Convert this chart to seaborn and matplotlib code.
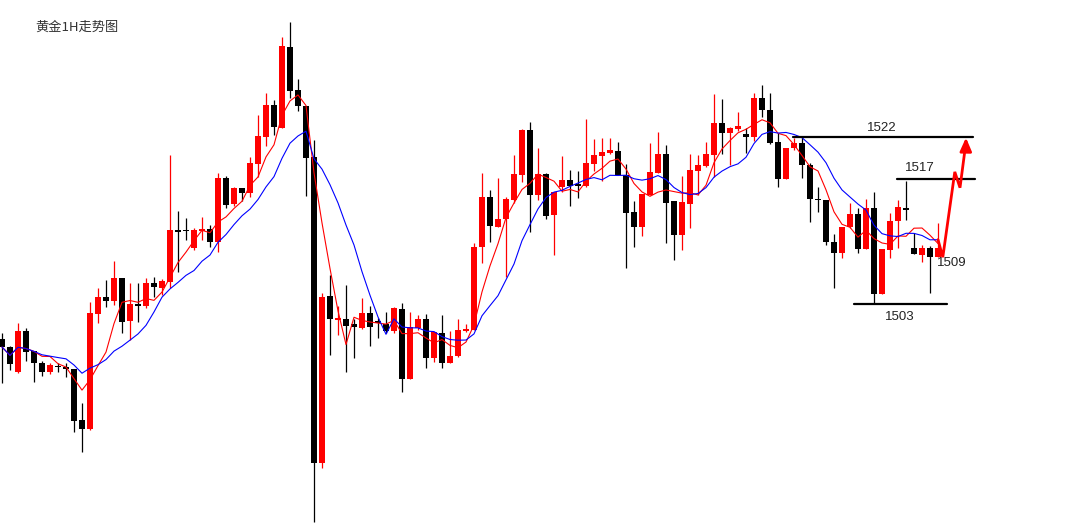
import numpy as np
import pandas as pd
import matplotlib
matplotlib.use("Agg")
import matplotlib.pyplot as plt
import seaborn as sns

# ----------------------------------------------------------------------
# DATA  (gold 1H candles)
# ----------------------------------------------------------------------
opens = [
    1499.0, 1498.1, 1495.3, 1499.9, 1497.6, 1496.3, 1495.3, 1495.9, 1495.8, 1495.6,
    1489.8, 1488.8, 1501.9, 1503.8, 1503.3, 1505.9, 1501.1, 1503.0, 1502.8, 1505.4,
    1504.8, 1505.5, 1511.4, 1511.4, 1509.3, 1511.3, 1511.5, 1510.0, 1517.3, 1514.4,
    1516.2, 1515.6, 1518.9, 1522.0, 1525.6, 1523.0, 1532.2, 1527.3, 1525.5, 1519.7,
    1484.9, 1503.9, 1501.2, 1501.3, 1500.7, 1500.3, 1502.0, 1501.1, 1500.7, 1499.9,
    1502.4, 1494.5, 1500.3, 1501.3, 1496.9, 1499.7, 1496.3, 1497.1, 1499.9, 1500.0,
    1509.5, 1515.1, 1511.7, 1512.6, 1514.8, 1517.6, 1522.8, 1515.4, 1517.8, 1513.1,
    1516.3, 1517.1, 1516.6, 1516.4, 1518.9, 1519.8, 1520.1, 1520.4, 1517.6, 1513.4,
    1511.7, 1515.4, 1517.9, 1520.0, 1514.7, 1510.8, 1514.4, 1518.1, 1518.7, 1519.9,
    1523.6, 1522.4, 1522.9, 1522.3, 1522.0, 1526.4, 1525.0, 1521.4, 1517.2, 1520.7,
    1521.3, 1518.8, 1514.9, 1514.8, 1510.0, 1508.8, 1511.7, 1513.2, 1509.2, 1513.9,
    1504.1, 1509.1, 1512.4, 1513.9, 1509.3, 1508.6, 1509.3, 1508.3,
]
highs = [
    1499.7, 1498.2, 1500.8, 1500.3, 1497.7, 1496.5, 1496.3, 1496.3, 1496.3, 1495.6,
    1491.7, 1503.2, 1504.8, 1505.7, 1507.9, 1505.9, 1505.4, 1505.4, 1505.9, 1506.1,
    1505.8, 1519.9, 1513.6, 1512.8, 1511.6, 1512.9, 1512.0, 1517.9, 1517.5, 1516.3,
    1516.2, 1519.7, 1524.5, 1527.0, 1526.2, 1533.3, 1535.0, 1528.6, 1525.5, 1521.6,
    1504.2, 1506.3, 1502.8, 1505.1, 1501.3, 1503.7, 1502.8, 1501.4, 1502.1, 1502.6,
    1503.1, 1502.1, 1501.7, 1501.9, 1499.8, 1501.7, 1499.9, 1501.3, 1500.7, 1509.9,
    1517.9, 1515.9, 1517.3, 1515.1, 1519.9, 1522.9, 1523.7, 1520.7, 1517.9, 1515.7,
    1519.8, 1518.2, 1518.1, 1524.0, 1521.7, 1521.9, 1521.9, 1521.4, 1518.9, 1514.7,
    1515.5, 1521.3, 1522.5, 1521.1, 1514.7, 1517.5, 1520.0, 1519.9, 1521.4, 1526.9,
    1526.3, 1523.1, 1524.8, 1523.0, 1527.0, 1527.9, 1527.0, 1522.4, 1520.7, 1521.9,
    1522.0, 1519.0, 1516.3, 1514.8, 1510.9, 1511.7, 1514.5, 1513.9, 1514.9, 1515.7,
    1509.2, 1513.3, 1514.8, 1517.0, 1511.1, 1509.7, 1509.6, 1512.2,
]
lows = [
    1494.0, 1495.5, 1495.2, 1496.5, 1494.1, 1494.8, 1495.0, 1495.3, 1494.7, 1488.4,
    1486.2, 1488.7, 1500.8, 1502.6, 1502.9, 1499.7, 1498.9, 1500.9, 1502.5, 1503.8,
    1504.0, 1504.8, 1506.6, 1510.3, 1509.1, 1510.3, 1509.5, 1508.9, 1513.9, 1514.1,
    1514.7, 1515.1, 1517.4, 1520.9, 1522.2, 1523.0, 1526.4, 1524.9, 1515.3, 1478.2,
    1484.4, 1497.2, 1499.5, 1495.3, 1496.9, 1500.1, 1498.2, 1499.1, 1499.7, 1499.7,
    1493.0, 1494.5, 1500.0, 1495.7, 1496.4, 1495.7, 1496.3, 1497.0, 1499.8, 1500.0,
    1507.6, 1510.0, 1511.7, 1506.1, 1514.5, 1516.9, 1511.2, 1514.8, 1512.6, 1508.6,
    1515.7, 1514.1, 1515.0, 1516.3, 1518.1, 1517.0, 1520.0, 1517.6, 1507.1, 1509.5,
    1510.7, 1515.4, 1517.9, 1509.9, 1508.0, 1509.1, 1511.6, 1515.4, 1518.5, 1517.4,
    1520.0, 1518.8, 1522.6, 1520.1, 1521.5, 1524.2, 1521.2, 1516.3, 1517.2, 1520.5,
    1517.3, 1512.3, 1513.4, 1509.7, 1504.8, 1508.2, 1511.6, 1508.8, 1509.2, 1503.1,
    1504.1, 1508.2, 1509.3, 1512.5, 1508.7, 1507.8, 1504.2, 1508.3,
]
closes = [
    1498.1, 1496.2, 1499.9, 1497.5, 1496.3, 1495.3, 1496.1, 1495.8, 1495.6, 1489.7,
    1488.8, 1502.0, 1503.8, 1503.3, 1505.9, 1500.9, 1503.0, 1502.8, 1505.4, 1504.9,
    1505.6, 1511.4, 1511.2, 1511.3, 1511.4, 1511.5, 1510.0, 1517.3, 1514.2, 1516.2,
    1515.6, 1519.0, 1522.1, 1525.6, 1523.1, 1532.3, 1527.2, 1525.5, 1519.6, 1484.9,
    1503.8, 1501.3, 1501.4, 1500.5, 1500.4, 1502.0, 1500.4, 1500.8, 1499.9, 1502.5,
    1494.5, 1500.4, 1501.3, 1496.9, 1499.8, 1496.3, 1497.1, 1500.0, 1500.1, 1509.5,
    1515.1, 1511.9, 1512.6, 1514.9, 1517.8, 1522.8, 1515.4, 1517.8, 1513.0, 1515.7,
    1517.1, 1516.4, 1516.4, 1519.0, 1519.9, 1520.3, 1520.5, 1517.6, 1513.3, 1511.7,
    1515.5, 1518.0, 1520.0, 1514.5, 1510.8, 1514.6, 1518.2, 1518.8, 1520.0, 1523.6,
    1522.4, 1523.0, 1523.2, 1522.0, 1526.4, 1525.0, 1521.3, 1517.2, 1520.7, 1521.3,
    1518.8, 1514.9, 1514.8, 1510.0, 1508.8, 1511.7, 1513.2, 1509.2, 1513.9, 1504.1,
    1509.2, 1512.4, 1514.0, 1513.7, 1508.7, 1509.3, 1508.3, 1509.3,
]

# support / resistance levels drawn by the analyst: (price, x-start, x-end)
level_prices = [1522, 1517.2, 1503]
level_x0 = [98.9, 111.9, 106.5]
level_x1 = [121.4, 121.6, 118.1]
level_labels = ["1522", "1517", "1503", "1509"]
label_x = [108.1, 112.9, 110.4, 116.9]
label_y = [1523.0, 1518.4, 1501.5, 1507.7]

# projected path (red arrow)
path_x = [117.0, 117.6, 119.1, 119.75, 120.5]
path_y = [1510.3, 1508.3, 1518.0, 1516.2, 1521.4]

title = "黄金1H走势图"

# ----------------------------------------------------------------------
# PREP
# ----------------------------------------------------------------------
df = pd.DataFrame({"open": opens, "high": highs, "low": lows, "close": closes})
df["idx"] = np.arange(len(df))
df["ma5"] = df["close"].rolling(5, min_periods=1).mean()
df["ma10"] = df["close"].rolling(10, min_periods=1).mean()
df["color"] = np.where(df["close"] > df["open"], "#ff0000", "#000000")
df["body_lo"] = df[["open", "close"]].min(axis=1)
df["body_h"] = (df["close"] - df["open"]).abs().clip(lower=0.15)

# ----------------------------------------------------------------------
# PLOT
# ----------------------------------------------------------------------
sns.set_style("white")
plt.rcParams["font.family"] = ["Noto Sans CJK SC", "DejaVu Sans"]

fig = plt.figure(figsize=(10.83, 5.31), dpi=100)
ax = fig.add_axes([0, 0, 1, 1])

# wicks + bodies
ax.vlines(df["idx"], df["low"], df["high"], colors=df["color"], linewidth=0.9, zorder=2)
ax.bar(df["idx"], df["body_h"], bottom=df["body_lo"], width=0.65,
       color=df["color"], edgecolor="none", zorder=3)

# moving averages
sns.lineplot(data=df, x="idx", y="ma5", color="#ff0000", linewidth=0.8, ax=ax, zorder=4)
sns.lineplot(data=df, x="idx", y="ma10", color="#0000ff", linewidth=0.8, ax=ax, zorder=4)

# levels
for p, a, b in zip(level_prices, level_x0, level_x1):
    ax.plot([a, b], [p, p], color="black", linewidth=1.6, zorder=5)
for t, x, y in zip(level_labels, label_x, label_y):
    ax.text(x, y, t, fontsize=9.5, color="#222222", family="Liberation Sans",
            ha="left", va="center", zorder=6)

# projected path
ax.plot(path_x, path_y, color="#ff0000", linewidth=2.0, solid_joinstyle="miter", zorder=6)
ax.annotate("", xy=(path_x[-1], 1522.2), xytext=(path_x[-1] - 0.03, 1520.0),
            arrowprops=dict(arrowstyle="-|>,head_width=0.35,head_length=0.8",
                            color="#ff0000", lw=2.0), zorder=7)

fig.text(35 / 1083, 1 - 27 / 531, title, fontsize=9.5, color="#333333",
         ha="left", va="center")

ax.set_xlim(-0.25, 135.125)
ax.set_ylim(1477.19, 1537.53)
ax.axis("off")

plt.savefig("out.png", dpi=100)
plt.close()
